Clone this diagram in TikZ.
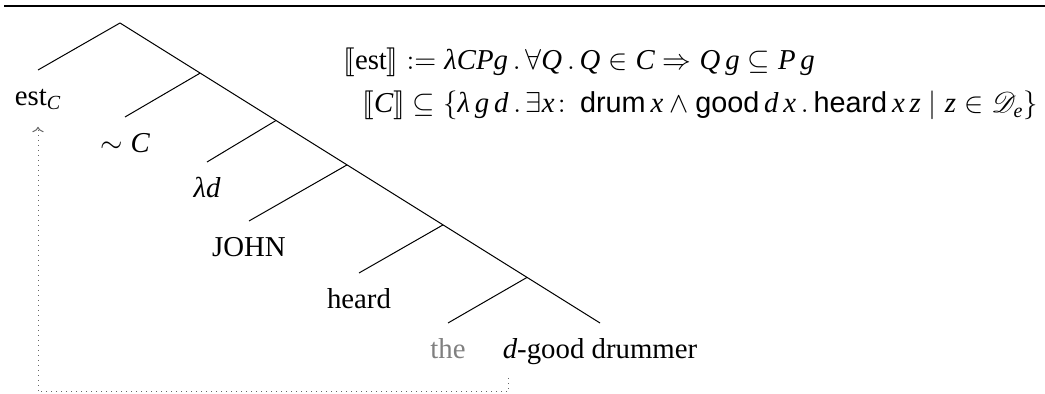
\documentclass[tikz,border=0pt]{standalone}
\usepackage{amsmath}
\usepackage{mathrsfs}
\usepackage{stmaryrd}
\usepackage{fontspec}
\setmainfont{Liberation Serif}
\setsansfont{Liberation Sans}
% Times-like italic letters in math
\DeclareSymbolFont{timesletters}{TU}{\rmdefault}{m}{it}
\makeatletter
\count@=`A
\loop \Umathcode\count@=7 \symtimesletters \count@
  \ifnum\count@<`Z \advance\count@ 1 \repeat
\count@=`a
\loop \Umathcode\count@=7 \symtimesletters \count@
  \ifnum\count@<`z \advance\count@ 1 \repeat
\makeatother
\Umathchardef\lambda="0 \symtimesletters "03BB
\usetikzlibrary{arrows.meta, calc}
\tikzset{
  >=To,
  leaf/.style     = {anchor=north, inner xsep=0pt, inner ysep=7.5pt,
                     text height=10pt, text depth=3pt,
                     font=\fontsize{14.4}{17}\selectfont},
  formula/.style  = {anchor=base west, inner sep=0pt,
                     font=\fontsize{14.4}{17}\selectfont},
  branch/.style   = {line width=0.5pt},
  movement/.style = {->, dotted, line width=0.5pt, gray!80!black},
  toprule/.style  = {line width=0.8pt},
}

\begin{document}
\begin{tikzpicture}[x=0.5pt, y=-0.5pt]
  \useasboundingbox (0,0) rectangle (1045,394);

  % ---------- rule above -------------------------------------------
  \coordinate (ruleL) at (4,6);
  \coordinate (ruleR) at (1045,6);
  \draw[toprule] (ruleL) -- (ruleR);

  % ---------- leaves -------------------------------------------------
  \coordinate (root) at (120,23);
  \node[leaf] (est)     at (38,70)   {est$_C$};
  \node[leaf] (simC)    at (125,117) {$\sim C$};
  \node[leaf] (lamd)    at (207,162) {$\lambda d$};
  \node[leaf] (john)    at (249,221) {JOHN};
  \node[leaf] (heard)   at (359,273) {heard};
  \node[leaf, text=gray] (the) at (448,323) {the};
  \node[leaf] (drummer) at (600,323) {$d$-good drummer};

  % ---------- branches: spine + left daughters -----------------------
  \draw[branch] (root) -- (est.north);
  \draw[branch] (root) -- (drummer.north);
  \foreach \leaf/\t in {simC/.167, lamd/.325, john/.473, heard/.673, the/.848}
    \draw[branch] ($(root)!\t!(drummer.north)$) -- (\leaf.north);

  % ---------- movement of the degree argument ------------------------
  \coordinate (dpos) at (508,378);
  \draw[movement] (dpos) -- ++(0,14) -| (est.south);

  % ---------- denotations --------------------------------------------
  \node[formula] (estdef) at (343,70)
    {$\llbracket\mathrm{est}\rrbracket \mathrel{:=} \lambda CPg\,.\,\forall Q\,.\,
      Q\in C\Rightarrow Q\,g\subseteq P\,g$};
  \node[formula] (cdef) at (362,113)
    {$\llbracket C\rrbracket \subseteq \{\lambda\,g\,d\,.\,\exists x\colon\,
      \mathsf{drum}\,x\wedge\mathsf{good}\,d\,x\,.\,\mathsf{heard}\,x\,z
      \mid z\in\mathscr{D}_e\}$};
\end{tikzpicture}
\end{document}
